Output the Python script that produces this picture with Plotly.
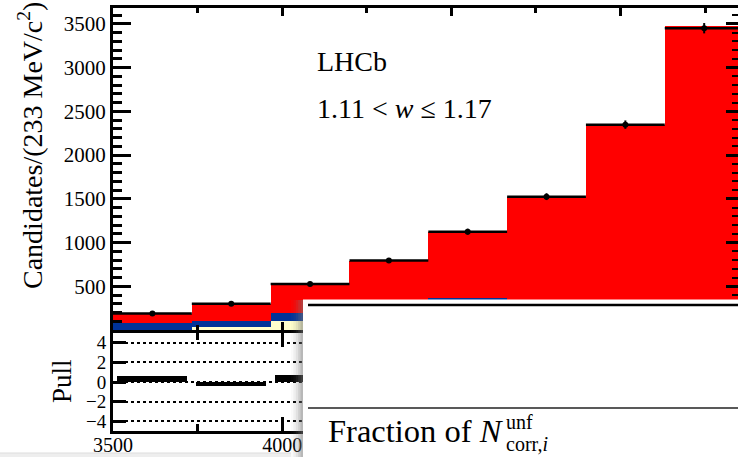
import plotly.graph_objects as go

# ---- data -------------------------------------------------------------
bin_low = [3500, 3733, 3966, 4199, 4432, 4665, 4898, 5131]   # MeV
bin_width = 233

data_counts = [190, 300, 528, 795, 1125, 1525, 2348, 3450]
data_errors = [14, 17, 23, 28, 34, 39, 48, 59]

# fit components (stacked, bottom to top)
comp_yellow = [0, 38, 109, 130, 150, 160, 150, 140]
comp_blue = [77, 68, 91, 200, 220, 180, 150, 130]
comp_red = [106, 197, 320, 462, 750, 1180, 2045, 3208]

pulls = [0.6, -0.45, 0.7, 0.2, -0.3, 0.3, 0.1, -0.5]

x_tick_labels = ["3500", "4000", "4500", "5000"]

# ---- geometry helpers -------------------------------------------------
W, H = 738, 457


def fx(px):
    return px / W


def fy(py):
    return 1 - py / H


centers = [lo + bin_width / 2 for lo in bin_low]
half_w = [bin_width / 2] * len(bin_low)

FONT = "Liberation Serif"
RED = "#ff0000"
BLUE = "#003399"
YELLOW = "#ffffcc"

fig = go.Figure()

# stacked fit components
for vals, col, name in [(comp_yellow, YELLOW, "yellow"),
                        (comp_blue, BLUE, "blue"),
                        (comp_red, RED, "red")]:
    fig.add_trace(go.Bar(x=centers, y=vals, width=bin_width, marker=dict(color=col, line=dict(width=0)),
                         xaxis="x", yaxis="y", name=name, showlegend=False))

# data points with bin-width horizontal bars
fig.add_trace(go.Scatter(
    x=centers, y=data_counts, mode="markers",
    marker=dict(color="black", size=6),
    error_x=dict(type="data", array=half_w, thickness=2.5, width=0, color="black"),
    error_y=dict(type="data", array=data_errors, thickness=2, width=0, color="black"),
    xaxis="x", yaxis="y", showlegend=False))

# pull panel
fig.add_trace(go.Bar(x=centers, y=pulls, width=bin_width * 0.89,
                     marker=dict(color="black", line=dict(width=0)),
                     xaxis="x2", yaxis="y2", showlegend=False))

# carries the right-hand tick marks of the main panel
fig.add_trace(go.Scatter(x=[centers[0]], y=[data_counts[0]], mode="markers",
                         marker=dict(opacity=0), xaxis="x", yaxis="y3",
                         showlegend=False, hoverinfo="skip"))

x_lo = 3500
x_hi = 3500 + (W - 113) / 0.3383

axis_common = dict(showgrid=False, zeroline=False, linecolor="black", linewidth=3,
                   tickcolor="black", tickwidth=2.5, automargin=False,
                   tickfont=dict(family=FONT, size=21, color="black"))

fig.update_layout(
    width=W, height=H,
    margin=dict(l=0, r=0, t=0, b=0, pad=0, autoexpand=False),
    paper_bgcolor="white", plot_bgcolor="white",
    barmode="stack", bargap=0,
    showlegend=False,
    xaxis=dict(domain=[fx(113), 1], range=[x_lo, x_hi], anchor="y",
               showline=True, mirror="ticks", ticks="inside",
               tickmode="linear", tick0=3500, dtick=500, ticklen=8,
               minor=dict(tick0=3500, dtick=250, ticklen=5, ticks="inside", tickcolor="black", tickwidth=2.5),
               showticklabels=False, **axis_common),
    yaxis=dict(domain=[fy(330), fy(8)], range=[1, 1 + 322 / 0.0875], anchor="x",
               showline=True, ticks="inside",
               tickmode="linear", tick0=0, dtick=500, ticklen=18,
               minor=dict(tick0=0, dtick=100, ticklen=9, ticks="inside", tickcolor="black", tickwidth=2.5),
               **axis_common),
    yaxis3=dict(overlaying="y", matches="y", side="right", anchor="x",
                showline=False, showgrid=False, zeroline=False, automargin=False,
                ticks="inside", tickmode="linear", tick0=0, dtick=500, ticklen=12,
                tickcolor="black", tickwidth=2.5, showticklabels=False,
                minor=dict(tick0=0, dtick=100, ticklen=6, ticks="inside", tickcolor="black", tickwidth=2)),
    xaxis2=dict(domain=[fx(113), 1], range=[x_lo, x_hi], anchor="y2",
                showline=True, mirror="ticks", ticks="inside",
                tickmode="array", tickvals=[3500, 4000, 4500, 5000], ticktext=x_tick_labels,
                ticklen=14, ticklabelstandoff=-6,
                minor=dict(tickmode="array", tickvals=[3750, 4250, 4750, 5250], ticklen=7,
                           ticks="inside", tickcolor="black", tickwidth=2.5),
                **{**axis_common, "tickfont": dict(family=FONT, size=20, color="black")}),
    yaxis2=dict(domain=[fy(431), fy(333)], range=[-5, 5], anchor="x2",
                showline=True, ticks="inside", ticklen=13,
                tickmode="array", tickvals=[-4, -2, 0, 2, 4], automargin=False,
                linecolor="black", linewidth=3, tickcolor="black", tickwidth=2.5,
                showgrid=True, gridcolor="black", gridwidth=1.5, griddash="dot",
                zeroline=False,
                tickfont=dict(family=FONT, size=19, color="black")),
)

ann = []


def text(px, py, s, size, anchor="left", angle=0, yanchor="middle"):
    ann.append(dict(x=fx(px), y=fy(py), xref="paper", yref="paper", text=s,
                    showarrow=False, xanchor=anchor, yanchor=yanchor, textangle=angle,
                    borderpad=0, font=dict(family=FONT, size=size, color="black")))


text(30, 146, "Candidates/(233 MeV/c<sup>2</sup>)", 28, anchor="center", angle=-90)
text(62, 381, "Pull", 27, anchor="center", angle=-90)
text(316, 62, "LHCb", 28)
text(316, 108, "1.11 &lt; <i>w</i> ≤ 1.17", 28)

# inset panel lying over the lower right corner
shapes = []
for i, op in enumerate([0.04, 0.08, 0.12, 0.18, 0.25]):
    shapes.append(dict(type="rect", xref="paper", yref="paper",
                       x0=fx(291 + 2.4 * i), x1=fx(303), y0=0, y1=fy(300),
                       fillcolor="rgba(120,120,120,%.2f)" % op, line=dict(width=0), layer="above"))
shapes.append(dict(type="rect", xref="paper", yref="paper", x0=fx(303), x1=1.01, y0=-0.01, y1=fy(299.5),
                   fillcolor="white", line=dict(width=0), layer="above"))
shapes.append(dict(type="line", xref="paper", yref="paper", x0=fx(308), x1=1.01, y0=fy(305), y1=fy(305),
                   line=dict(color="black", width=2.5), layer="above"))
shapes.append(dict(type="line", xref="paper", yref="paper", x0=fx(308), x1=1.01, y0=fy(408), y1=fy(408),
                   line=dict(color="#222222", width=1.3), layer="above"))
# pale strip along the bottom edge
shapes.append(dict(type="rect", xref="paper", yref="paper", x0=0, x1=fx(291), y0=-0.01, y1=fy(453),
                   fillcolor="#eeeeee", line=dict(width=0), layer="above"))
shapes.append(dict(type="line", xref="paper", yref="paper", x0=0, x1=fx(291), y0=fy(453), y1=fy(453),
                   line=dict(color="#dddddd", width=1), layer="above"))

text(327, 431, "Fraction of <i>N</i>", 32.5)
text(505, 422, "unf", 20)
text(505, 444, "corr,<i>i</i>", 20)

fig.update_layout(annotations=ann, shapes=shapes)

fig.write_html("out.html")
